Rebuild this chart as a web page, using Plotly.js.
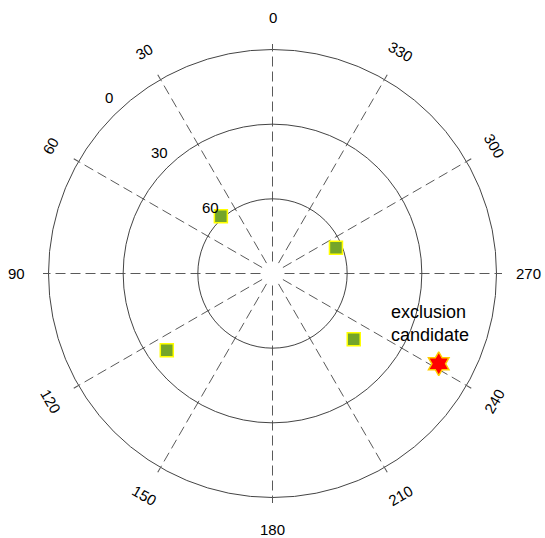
<!DOCTYPE html>
<html>
<head>
<meta charset="utf-8">
<script src="https://cdn.plot.ly/plotly-3.0.1.min.js"></script>
<style>html,body{margin:0;padding:0;background:#fff;}#chart{width:545px;height:538px;}</style>
</head>
<body>
<div id="chart"></div>
<script>
// ---- data ----
const angTicks = [0, 30, 60, 90, 120, 150, 180, 210, 240, 270, 300, 330];
const angLabels = ['0', '30', '60', '90', '120', '150', '180', '210', '240', '270', '300', '330'];
const radTicks = [0, 30, 60];
const radLabels = ['0', '30', '60'];
const satAzimuth = [42, 126, 231, 292];
const satElevation = [59, 37.5, 48, 62.5];
const exclAzimuth = [241.5];
const exclElevation = [14];
const exclText = ['exclusion<br>candidate'];

// ---- layout geometry ----
const W = 545, H = 538;
const dom = {x: [48.5 / W, 496.5 / W], y: [(H - 497.5) / H, (H - 49.5) / H]};
const cx = (dom.x[0] + dom.x[1]) / 2, cy = (dom.y[0] + dom.y[1]) / 2;
const R = (dom.x[1] - dom.x[0]) * W / 2;
const FONT = 'Liberation Sans, Arial, sans-serif';

function toPaper(az, pr) {
  const a = (90 + az) * Math.PI / 180;
  return {x: cx + pr * Math.cos(a) / W, y: cy + pr * Math.sin(a) / H};
}
const annotations = [];
angTicks.forEach((az, i) => {
  const p = toPaper(az, R + 32);
  let ta = 0;
  if (az % 90 !== 0) { ta = -az; while (ta <= -90) ta += 180; while (ta > 90) ta -= 180; }
  annotations.push({xref: 'paper', yref: 'paper', x: p.x, y: p.y, text: angLabels[i], showarrow: false,
    xanchor: 'center', yanchor: 'middle', textangle: ta, font: {family: FONT, size: 15, color: '#000'}});
});
radTicks.forEach((el, i) => {
  const p = toPaper(43, (90 - el) / 90 * R + 16);
  annotations.push({xref: 'paper', yref: 'paper', x: p.x, y: p.y, text: radLabels[i], showarrow: false,
    xanchor: 'center', yanchor: 'middle', font: {family: FONT, size: 15, color: '#000'}});
});
exclAzimuth.forEach((az, i) => {
  const p = toPaper(az, (90 - exclElevation[i]) / 90 * R);
  annotations.push({xref: 'paper', yref: 'paper', x: p.x, y: p.y, text: exclText[i], showarrow: false,
    xanchor: 'center', yanchor: 'bottom', xshift: -9, yshift: 17, align: 'left',
    font: {family: FONT, size: 18, color: '#000'}});
});

// dash pattern for spokes: a gap at the centre, then 10px dashes / 5px gaps
const dashParts = ['0px', '12px'];
for (let k = 0; k < 16; k++) { dashParts.push('10px', '5px'); }
const spokeDash = dashParts.join(',');

const traces = [
  {type: 'scatterpolar', mode: 'markers', theta: satAzimuth, r: satElevation,
   marker: {symbol: 'square', size: 13, color: '#74a52a', line: {color: '#ffff00', width: 1.5}},
   hoverinfo: 'skip', showlegend: false},
  {type: 'scatterpolar', mode: 'markers', theta: exclAzimuth, r: exclElevation,
   cliponaxis: false,
   marker: {symbol: 'hexagram', size: 18, color: '#ff0000', line: {color: '#ffcc00', width: 1.5}},
   hoverinfo: 'skip', showlegend: false}
];

const layout = {
  width: W, height: H,
  margin: {l: 0, r: 0, t: 0, b: 0},
  paper_bgcolor: '#fff',
  showlegend: false,
  font: {family: FONT, size: 15, color: '#000'},
  polar: {
    domain: dom,
    bgcolor: 'rgba(0,0,0,0)',
    angularaxis: {
      rotation: 90, direction: 'counterclockwise',
      tickmode: 'array', tickvals: angTicks, showticklabels: false,
      ticks: 'outside', ticklen: 5, tickcolor: '#555', tickwidth: 1,
      showgrid: true, gridcolor: '#5a5a5a', gridwidth: 1, griddash: spokeDash,
      showline: true, linecolor: '#444', linewidth: 1
    },
    radialaxis: {
      range: [90, 0], tickmode: 'array', tickvals: radTicks, showticklabels: false,
      ticks: '', showline: false, angle: 135,
      showgrid: true, gridcolor: '#444', gridwidth: 1
    }
  },
  annotations: annotations
};

Plotly.newPlot('chart', traces, layout, {staticPlot: true, displayModeBar: false});
</script>
</body>
</html>
